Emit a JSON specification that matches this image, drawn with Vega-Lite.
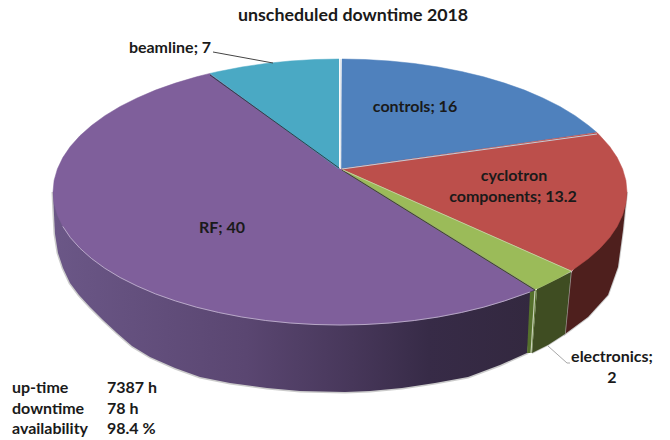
{"$schema":"https://vega.github.io/schema/vega-lite/v6.json","width":670,"height":440,"padding":0,"autosize":{"type":"none"},"background":"white","title":{"text":"unscheduled downtime 2018","anchor":"start","frame":"group","dx":238,"offset":-25,"font":"Lato","fontSize":17.8,"fontWeight":"bold","color":"#1a1a1a"},"config":{"view":{"stroke":null},"text":{"font":"Lato","fontWeight":"bold","fontSize":16,"color":"#1a1a1a"}},
"datasets":{
"controls":[{"x":1,"y":23},{"x":2,"y":133},{"x":25,"y":132.5},{"x":49.8,"y":131},{"x":74.3,"y":128.5},{"x":98.2,"y":125},{"x":121.3,"y":120.5},{"x":143.5,"y":115.2},{"x":164.6,"y":108.9},{"x":184.5,"y":101.9},{"x":202.9,"y":94},{"x":219.9,"y":85.5},{"x":235.1,"y":76.3},{"x":248.5,"y":66.5},{"x":257,"y":59.4}],
"cyclotron":[{"x":1,"y":23},{"x":257,"y":59.4},{"x":260.1,"y":56.2},{"x":269.7,"y":45.5},{"x":277.2,"y":34.4},{"x":282.6,"y":23.1},{"x":285.9,"y":11.6},{"x":287,"y":0},{"x":285.9,"y":-11.6},{"x":282.6,"y":-23.1},{"x":277.2,"y":-34.4},{"x":269.7,"y":-45.5},{"x":260.1,"y":-56.2},{"x":248.5,"y":-66.5},{"x":235.1,"y":-76.3},{"x":231,"y":-79}],
"electronics":[{"x":1,"y":23},{"x":231,"y":-79},{"x":219.9,"y":-85.5},{"x":202.9,"y":-94},{"x":195,"y":-97.6}],
"rf":[{"x":1,"y":23},{"x":195,"y":-97.6},{"x":184.5,"y":-101.9},{"x":164.6,"y":-108.9},{"x":143.5,"y":-115.2},{"x":121.3,"y":-120.5},{"x":98.2,"y":-125},{"x":74.3,"y":-128.5},{"x":49.8,"y":-131},{"x":25,"y":-132.5},{"x":0,"y":-133},{"x":-25,"y":-132.5},{"x":-49.8,"y":-131},{"x":-74.3,"y":-128.5},{"x":-98.2,"y":-125},{"x":-121.3,"y":-120.5},{"x":-143.5,"y":-115.2},{"x":-164.6,"y":-108.9},{"x":-184.5,"y":-101.9},{"x":-202.9,"y":-94},{"x":-219.9,"y":-85.5},{"x":-235.1,"y":-76.3},{"x":-248.5,"y":-66.5},{"x":-260.1,"y":-56.2},{"x":-269.7,"y":-45.5},{"x":-277.2,"y":-34.4},{"x":-282.6,"y":-23.1},{"x":-285.9,"y":-11.6},{"x":-287,"y":0},{"x":-285.9,"y":11.6},{"x":-282.6,"y":23.1},{"x":-277.2,"y":34.4},{"x":-269.7,"y":45.5},{"x":-260.1,"y":56.2},{"x":-248.5,"y":66.5},{"x":-235.1,"y":76.3},{"x":-219.9,"y":85.5},{"x":-202.9,"y":94},{"x":-184.5,"y":101.9},{"x":-164.6,"y":108.9},{"x":-143.5,"y":115.2},{"x":-130,"y":118.6}],
"beamline":[{"x":-1,"y":23},{"x":-130,"y":118.6},{"x":-121.3,"y":120.5},{"x":-98.2,"y":125},{"x":-74.3,"y":128.5},{"x":-49.8,"y":131},{"x":-25,"y":132.5},{"x":-1,"y":133}],
"rfWall":[{"x":195,"y":-97.6},{"x":187,"y":-161},{"x":160,"y":-173},{"x":128,"y":-185},{"x":95,"y":-191},{"x":62,"y":-196},{"x":30,"y":-199},{"x":5,"y":-200},{"x":-40,"y":-199},{"x":-73,"y":-196},{"x":-110,"y":-191},{"x":-140,"y":-185},{"x":-165,"y":-176},{"x":-190,"y":-165},{"x":-208,"y":-154},{"x":-223,"y":-141},{"x":-237,"y":-128},{"x":-250,"y":-115},{"x":-261,"y":-103},{"x":-270,"y":-91},{"x":-277,"y":-76},{"x":-282,"y":-61},{"x":-285,"y":-42},{"x":-286,"y":-23},{"x":-287,"y":0}],
"strip":[{"x":187,"y":-161},{"x":192,"y":-161},{"x":197,"y":-98},{"x":190,"y":-100}],
"elecWall":[{"x":197,"y":-97},{"x":231,"y":-80},{"x":225,"y":-142},{"x":208,"y":-153},{"x":192,"y":-161}],
"cycWall":[{"x":231,"y":-81},{"x":225,"y":-142},{"x":248,"y":-125},{"x":268,"y":-103},{"x":278,"y":-75},{"x":283,"y":-38},{"x":287,"y":0}],
"rim":[{"x":190,"y":-100},{"x":164.6,"y":-108.9},{"x":143.5,"y":-115.2},{"x":121.3,"y":-120.5},{"x":98.2,"y":-125},{"x":74.3,"y":-128.5},{"x":49.8,"y":-131},{"x":25,"y":-132.5},{"x":0,"y":-133},{"x":-25,"y":-132.5},{"x":-49.8,"y":-131},{"x":-74.3,"y":-128.5},{"x":-98.2,"y":-125},{"x":-121.3,"y":-120.5},{"x":-143.5,"y":-115.2},{"x":-164.6,"y":-108.9},{"x":-184.5,"y":-101.9},{"x":-202.9,"y":-94},{"x":-219.9,"y":-85.5},{"x":-235.1,"y":-76.3},{"x":-248.5,"y":-66.5},{"x":-260.1,"y":-56.2},{"x":-269.7,"y":-45.5},{"x":-277.2,"y":-34.4}],
"labels":[{"t":"controls; 16","x":75,"y":85},{"t":"cyclotron","x":174,"y":16},{"t":"components; 13.2","x":173,"y":-5},{"t":"RF; 40","x":-118,"y":-36},{"t":"beamline; 7","x":-170,"y":144},{"t":"electronics;","x":272,"y":-165},{"t":"2","x":272,"y":-186}],
"notes":[{"t":"up-time","x":-328,"y":-196},{"t":"downtime","x":-328,"y":-217},{"t":"availability","x":-328,"y":-237},{"t":"7387 h","x":-233,"y":-196},{"t":"78 h","x":-233,"y":-217},{"t":"98.4 %","x":-233,"y":-237}],
"leadB":[{"x":-127,"y":140},{"x":-67,"y":129}],
"leadE":[{"x":208,"y":-154},{"x":227,"y":-171},{"x":230,"y":-171}],
"edgeBR":[{"x":-130,"y":117},{"x":-1,"y":24}],
"edgeBC":[{"x":0.5,"y":133},{"x":0.5,"y":23}],
"edgeCC":[{"x":2,"y":23},{"x":257,"y":58}],
"edgeER":[{"x":2,"y":22},{"x":195,"y":-98}],
"edgeCE":[{"x":3,"y":22},{"x":231,"y":-79}],
"edgeFront":[{"x":195,"y":-99},{"x":191,"y":-161}]
},
"encoding":{"x":{"field":"x","type":"quantitative","scale":{"domain":[-340,330],"nice":false,"zero":false},"axis":null},"y":{"field":"y","type":"quantitative","scale":{"domain":[-248,192],"nice":false,"zero":false},"axis":null},"order":{"value":null}},
"layer":[
{"data":{"name":"rfWall"},"mark":{"type":"line","stroke":"#b5b5b5","strokeWidth":3,"opacity":0.7,"clip":true},"encoding":{}},
{"data":{"name":"rfWall"},"mark":{"type":"line","stroke":null,"fill":{"gradient":"linear","x1":0,"y1":0,"x2":1,"y2":0,"stops":[{"offset":0,"color":"#6b5787"},{"offset":0.4,"color":"#5a4671"},{"offset":0.62,"color":"#47375a"},{"offset":0.78,"color":"#372b47"},{"offset":1,"color":"#33283f"}]}},"encoding":{}},
{"data":{"name":"cycWall"},"mark":{"type":"line","stroke":"#b5b5b5","strokeWidth":2,"opacity":0.7},"encoding":{}},
{"data":{"name":"cycWall"},"mark":{"type":"line","stroke":null,"fill":"#4e1f1d"},"encoding":{}},
{"data":{"name":"elecWall"},"mark":{"type":"line","stroke":"#b5b5b5","strokeWidth":1.5,"opacity":0.7},"encoding":{}},
{"data":{"name":"elecWall"},"mark":{"type":"line","stroke":null,"fill":"#3f4d22"},"encoding":{}},
{"data":{"name":"strip"},"mark":{"type":"line","stroke":null,"fill":"#55702c"},"encoding":{}},
{"data":{"name":"edgeFront"},"mark":{"type":"line","stroke":"#c9d0b8","strokeWidth":1.2},"encoding":{}},
{"data":{"name":"controls"},"mark":{"type":"line","stroke":"#4f81bd","strokeWidth":0.5,"fill":"#4f81bd"},"encoding":{}},
{"data":{"name":"cyclotron"},"mark":{"type":"line","stroke":"#bc4f4b","strokeWidth":0.5,"fill":"#bc4f4b"},"encoding":{}},
{"data":{"name":"electronics"},"mark":{"type":"line","stroke":"#9bbb59","strokeWidth":0.5,"fill":"#9bbb59"},"encoding":{}},
{"data":{"name":"rf"},"mark":{"type":"line","stroke":"#7f5f9b","strokeWidth":0.5,"fill":"#7f5f9b"},"encoding":{}},
{"data":{"name":"beamline"},"mark":{"type":"line","stroke":"#4aa9c4","strokeWidth":0.5,"fill":"#4aa9c4"},"encoding":{}},
{"data":{"name":"rim"},"mark":{"type":"line","stroke":"#c9bdd6","strokeWidth":0.8},"encoding":{}},
{"data":{"name":"edgeBR"},"mark":{"type":"line","stroke":"#2f4048","strokeWidth":1},"encoding":{}},
{"data":{"name":"edgeBC"},"mark":{"type":"line","stroke":"#e4e8ec","strokeWidth":1.5},"encoding":{}},
{"data":{"name":"edgeCC"},"mark":{"type":"line","stroke":"#c5ccd6","strokeWidth":1},"encoding":{}},
{"data":{"name":"edgeER"},"mark":{"type":"line","stroke":"#3d5020","strokeWidth":1},"encoding":{}},
{"data":{"name":"edgeCE"},"mark":{"type":"line","stroke":"#c9cfa8","strokeWidth":0.8},"encoding":{}},
{"data":{"name":"leadB"},"mark":{"type":"line","stroke":"#444444","strokeWidth":1},"encoding":{}},
{"data":{"name":"leadE"},"mark":{"type":"line","stroke":"#a8a8a8","strokeWidth":1},"encoding":{}},
{"data":{"name":"labels"},"mark":{"type":"text","align":"center","baseline":"middle"},"encoding":{"text":{"field":"t"}}},
{"data":{"name":"notes"},"mark":{"type":"text","align":"left","baseline":"middle"},"encoding":{"text":{"field":"t"}}}
]}
